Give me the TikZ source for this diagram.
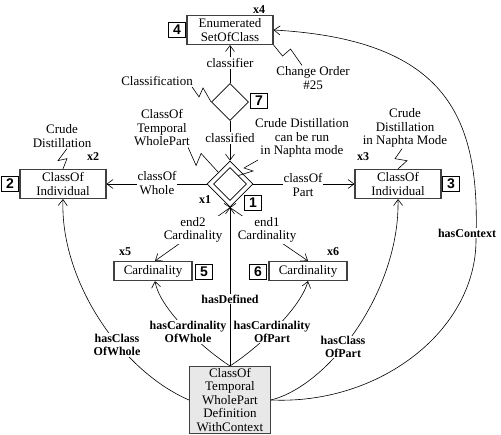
\documentclass[tikz,border=0pt]{standalone}
\usepackage{fontspec}
\setmainfont{Liberation Serif}
\setsansfont{Liberation Sans}
\usetikzlibrary{shapes.geometric,arrows.meta}

\begin{document}
\begin{tikzpicture}[x=1pt,y=-1pt,
	>={Straight Barb[length=6pt,width=9pt]},
	line width=0.6pt,
	cls/.style={draw=black!75, line width=1.1pt, align=center, inner sep=0pt,
		font=\fontsize{13}{13.5}\selectfont, minimum width=86pt, minimum height=29pt},
	card/.style={cls, minimum width=78pt, minimum height=19pt},
	num/.style={draw, line width=1.1pt, inner sep=0pt, minimum width=17pt, minimum height=15pt,
		font=\fontsize{14}{14}\selectfont\sffamily\bfseries},
	rel/.style={diamond, draw, line width=0.8pt, inner sep=0pt, minimum size=37pt},
	note/.style={inner sep=1pt, align=center, font=\fontsize{13}{13.5}\selectfont},
	lbl/.style={note, fill=white},
	blbl/.style={lbl, font=\fontsize{12}{12.5}\selectfont\bfseries},
	xlab/.style={inner sep=0pt, font=\fontsize{12}{12}\selectfont\bfseries}]

	\useasboundingbox (0,0) rectangle (501,435);

	% classes
	\draw (230,30) node[cls] (enum) {Enumerated\\SetOfClass} ;
	\draw (63,184) node[cls] (whole) {ClassOf\\Individual} ;
	\draw (398,184) node[cls] (part) {ClassOf\\Individual} ;
	\draw (153,271) node[card] (cardw) {Cardinality} ;
	\draw (308,271) node[card] (cardp) {Cardinality} ;
	\draw (230,400) node[cls, fill=gray!18, minimum width=81pt, minimum height=67pt] (ctx)
		{ClassOf\\Temporal\\WholePart\\Definition\\WithContext} ;

	% relationships
	\draw (230,102) node[rel] (classif) {} ;
	\draw (230,184) node[rel, minimum size=46pt] (wp) {} ;
	\draw (230,184) node[rel, minimum size=33pt] (wpin) {} ;

	% numbers and instance marks
	\draw (177,30) node[num] (n4) {4} ;
	\draw (259,101) node[num] (n7) {7} ;
	\draw (253,203) node[num] (n1) {1} ;
	\draw (10,184) node[num] (n2) {2} ;
	\draw (451,184) node[num] (n3) {3} ;
	\draw (204,272) node[num] (n5) {5} ;
	\draw (258,272) node[num] (n6) {6} ;
	\draw (259,10) node[xlab] (x4) {x4} ;
	\draw (205,200) node[xlab] (x1) {x1} ;
	\draw (93,157) node[xlab] (x2) {x2} ;
	\draw (363,157) node[xlab] (x3) {x3} ;
	\draw (125,252) node[xlab] (x5) {x5} ;
	\draw (333,252) node[xlab] (x6) {x6} ;

	% names
	\draw (157,81) node[note] (tclassif) {Classification} ;
	\draw (62,136) node[note] (tcrude) {Crude\\Distillation} ;
	\draw (162,128) node[note] (ttwp) {ClassOf\\Temporal\\WholePart} ;
	\draw (302,138) node[note] (trun) {Crude Distillation\\can be run\\in Naphta mode} ;
	\draw (405,128) node[note] (tmode) {Crude\\Distillation\\in Naphta Mode} ;
	\draw (313,78) node[note] (tchange) {Change Order\\\#25} ;

	\draw ([xshift=-2pt]tclassif.south east) -- ++(7,10) -- ++(4,-9) -- (classif.west);
	\draw ([xshift=5pt]tcrude.south) -- ++(-9,12) -- ++(9,-2) -- (whole.north);
	\draw ([xshift=-3pt]ttwp.south east) -- ++(8,18) -- ++(5,-12) -- (wp.north west);
	\draw (258,160) -- (244,168) -- (253,171) -- (wpin.north east);
	\draw ([xshift=-3pt]tmode.south) -- ++(-7,10) -- ++(12,2) -- (part.north);
	\draw (enum.south east) -- ++(9,11) -- ++(8,-7) -- ([xshift=-11pt]tchange.north);

	% connectors
	\draw[->] (classif.north) -- (enum.south);
	\draw[->] (classif.south) -- (wp.north);
	\draw[->] (wp.west) -- (whole.east);
	\draw[->] (wp.east) -- (part.west);
	\draw[->] ([shift={(6,-4)}]wp.south) -- ([xshift=2pt]cardw.north);
	\draw[->] ([shift={(-6,-4)}]wp.south) -- (cardp.north);
	\draw[->] (ctx.north) -- (wp.south);
	\draw[->] (ctx.north) .. controls (205,350) and (160,310) .. ([xshift=2pt]cardw.south);
	\draw[->] (ctx.north) .. controls (255,350) and (300,310) .. (cardp.south);
	\draw[->] (ctx.west) .. controls (120,370) and (60,280) .. (whole.south);
	\draw[->] (ctx.east) .. controls (330,385) and (400,290) .. (part.south);
	\draw[->] (ctx.east) .. controls (380,405) and (476,330) .. (476,240)
		.. controls (480,120) and (450,40) .. (enum.east);

	% connector labels
	\draw (230,63) node[lbl] (lclassifier) {classifier} ;
	\draw (230,138) node[lbl] (lclassified) {classified} ;
	\draw (157,183) node[lbl] (lwhole) {classOf\\Whole} ;
	\draw (303,185) node[lbl] (lpart) {classOf\\Part} ;
	\draw (193,230) node[lbl] (lend2) {end2\\Cardinality} ;
	\draw (267,230) node[lbl] (lend1) {end1\\Cardinality} ;
	\draw (230,299) node[blbl] (ldef) {hasDefined} ;
	\draw (188,332) node[blbl] (lcw) {hasCardinality\\OfWhole} ;
	\draw (272,332) node[blbl] (lcp) {hasCardinality\\OfPart} ;
	\draw (117,345) node[blbl] (lhw) {hasClass\\OfWhole} ;
	\draw (343,347) node[blbl] (lhp) {hasClass\\OfPart} ;
	\draw (467,233) node[blbl] (lctx) {hasContext} ;

\end{tikzpicture}
\end{document}
